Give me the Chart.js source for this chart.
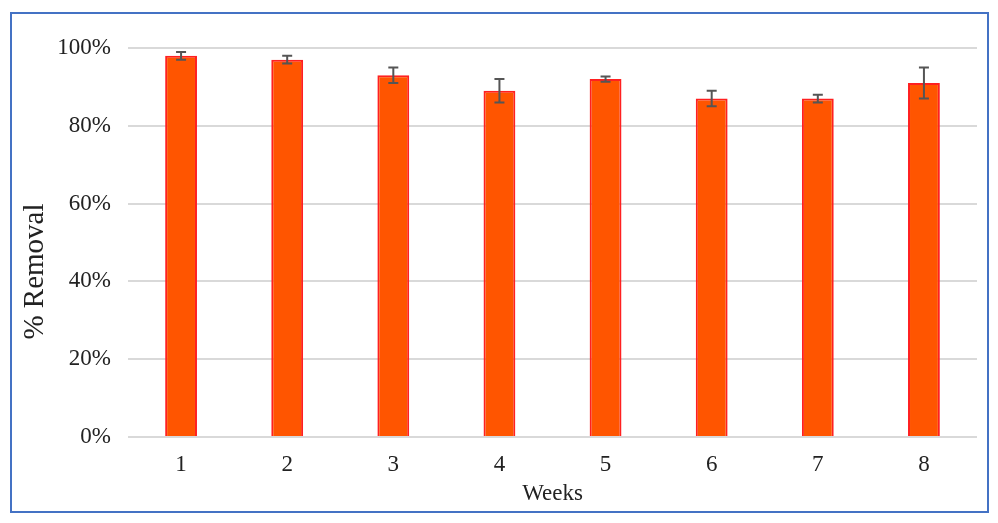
<!DOCTYPE html>
<html>
<head>
<meta charset="utf-8">
<script src="https://cdn.jsdelivr.net/npm/chart.js@4"></script>
<style>
    html, body { margin: 0; padding: 0; background: #fff; }
    #wrap { position: relative; width: 998px; height: 523px; }
    #frame {
        position: absolute; left: 10px; top: 12px; width: 975px; height: 497px;
        border: 2px solid #4472C4; pointer-events: none;
    }
</style>
</head>
<body>
<div id="wrap">
    <canvas id="removalChart" width="998" height="523"></canvas>
    <div id="frame"></div>
</div>
<script>
    // data
    const weeks = ["1", "2", "3", "4", "5", "6", "7", "8"];
    const removal = [98, 97, 93, 89, 92, 87, 87, 91];
    const removalErr = [1, 1, 2, 3, 0.7, 2, 1, 4];

    const serif = "'Liberation Serif', 'DejaVu Serif', serif";

    // error bars drawn through the y scale
    const errorBars = {
        id: "errorBars",
        afterDatasetsDraw(chart) {
            const ctx = chart.ctx;
            const y = chart.scales.y;
            const meta = chart.getDatasetMeta(0);
            ctx.save();
            ctx.strokeStyle = "#555";
            ctx.lineWidth = 2;
            meta.data.forEach((bar, i) => {
                const top = y.getPixelForValue(removal[i] + removalErr[i]);
                const bot = y.getPixelForValue(removal[i] - removalErr[i]);
                ctx.beginPath();
                ctx.moveTo(bar.x, top);
                ctx.lineTo(bar.x, bot);
                ctx.moveTo(bar.x - 5, top);
                ctx.lineTo(bar.x + 5, top);
                ctx.moveTo(bar.x - 5, bot);
                ctx.lineTo(bar.x + 5, bot);
                ctx.stroke();
            });
            ctx.restore();
        }
    };

    new Chart(document.getElementById("removalChart"), {
        type: "bar",
        data: {
            labels: weeks,
            datasets: [{
                data: removal,
                backgroundColor: "#FF5500",
                borderColor: "#FF2020",
                borderWidth: 2,
                categoryPercentage: 1,
                barPercentage: 0.3
            }]
        },
        options: {
            responsive: false,
            animation: false,
            layout: {
                padding: { left: 18, right: 21, top: 48, bottom: 11 }
            },
            plugins: {
                legend: { display: false },
                tooltip: { enabled: false }
            },
            scales: {
                x: {
                    grid: { display: false },
                    border: { display: false },
                    ticks: {
                        color: "#222",
                        font: { family: serif, size: 23 },
                        padding: 6
                    },
                    title: {
                        display: true,
                        text: "Weeks",
                        color: "#222",
                        font: { family: serif, size: 23 },
                        padding: { top: 8 }
                    },
                    afterFit(scale) { scale.height = 75; }
                },
                y: {
                    min: 0,
                    max: 100,
                    grid: { color: "#d9d9d9", lineWidth: 2, drawTicks: false },
                    border: { display: false },
                    ticks: {
                        stepSize: 20,
                        color: "#222",
                        font: { family: serif, size: 23 },
                        padding: 17,
                        callback: v => v + "%"
                    },
                    title: {
                        display: true,
                        // trailing spaces nudge the label below the axis centre, as in the figure
                        text: "% Removal\u00a0\u00a0\u00a0\u00a0\u00a0\u00a0\u00a0\u00a0",
                        color: "#222",
                        font: { family: serif, size: 29 },
                        padding: 0
                    },
                    afterFit(scale) { scale.width = 110; }
                }
            }
        },
        plugins: [errorBars]
    });
</script>
</body>
</html>
